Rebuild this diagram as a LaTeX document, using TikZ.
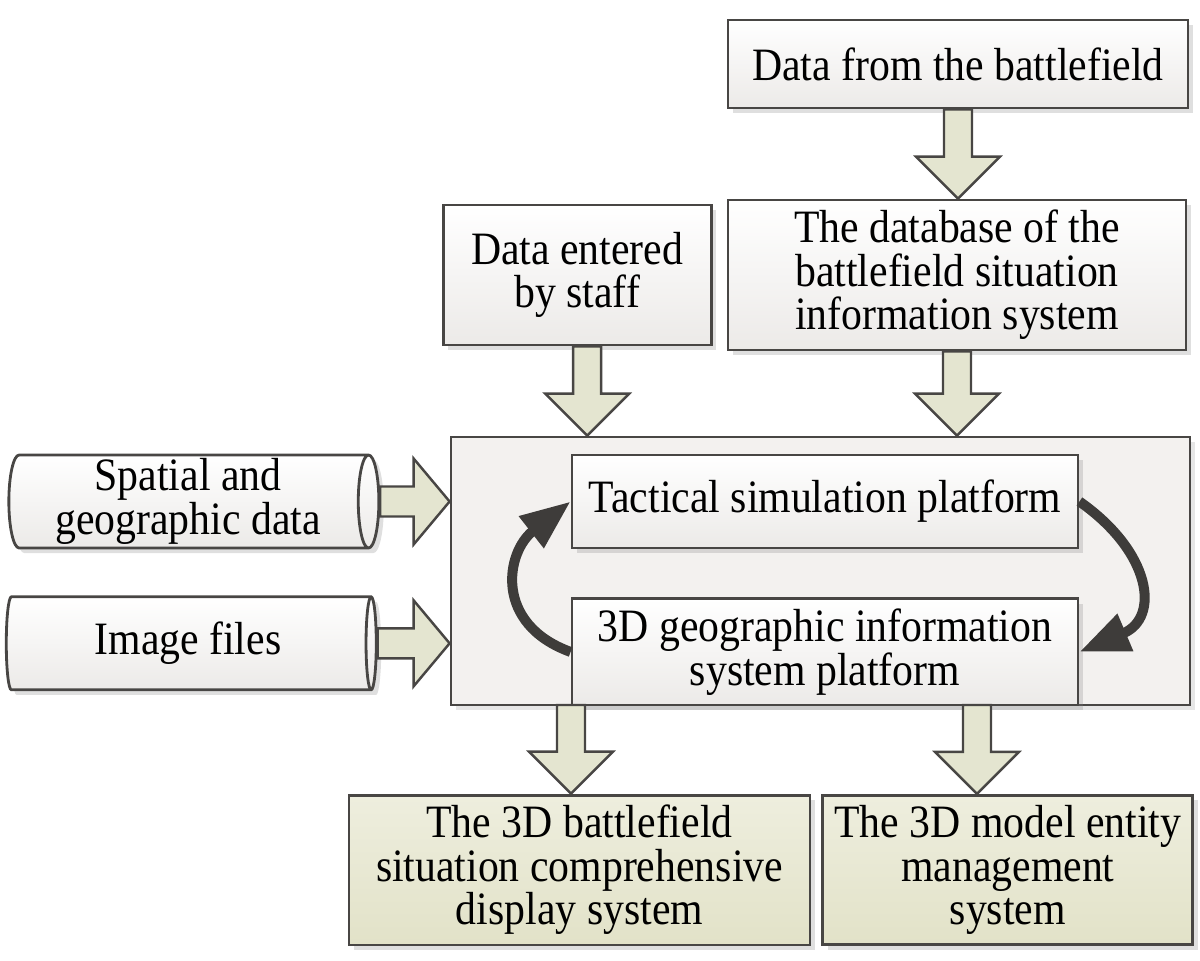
\documentclass[tikz,border=0pt]{standalone}
\usepackage{fontspec}
\setmainfont{Liberation Serif}[FakeStretch=0.9]
\usetikzlibrary{arrows.meta, positioning, calc, shapes.geometric, shadows}

\definecolor{frame}{RGB}{72,70,68}
\definecolor{panel}{RGB}{243,241,239}
\definecolor{boxlow}{RGB}{236,234,232}
\definecolor{olivetop}{RGB}{238,238,222}
\definecolor{olivelow}{RGB}{226,226,200}
\definecolor{arrowfill}{RGB}{228,229,208}
\definecolor{loopgray}{RGB}{62,60,58}

% block arrows between two points
\newcommand{\downblock}[2]{%
  \draw[blockarr] let \p1=(#1), \p2=(#2) in
    (\x1-1.4mm,\y1) -- (\x1-1.4mm,\y2+4.2mm) -- (\x1-4.2mm,\y2+4.2mm) -- (\x1,\y2)
    -- (\x1+4.2mm,\y2+4.2mm) -- (\x1+1.4mm,\y2+4.2mm) -- (\x1+1.4mm,\y1) -- cycle;}
\newcommand{\rightblock}[2]{%
  \draw[blockarr] let \p1=(#1), \p2=(#2) in
    (\x1,\y1+1.5mm) -- (\x2-3.6mm,\y1+1.5mm) -- (\x2-3.6mm,\y1+4.3mm) -- (\x2,\y1)
    -- (\x2-3.6mm,\y1-4.3mm) -- (\x2-3.6mm,\y1-1.5mm) -- (\x1,\y1-1.5mm) -- cycle;}

\begin{document}
\begin{tikzpicture}[
  x=0.1mm, y=-0.1mm,
  font=\fontsize{13.2}{12.4}\selectfont,
  box/.style={draw=frame, line width=0.8pt, top color=white, bottom color=boxlow,
    align=center, inner sep=1mm,
    drop shadow={opacity=0.25, shadow xshift=0.5mm, shadow yshift=-0.5mm}},
  outbox/.style={box, top color=olivetop, bottom color=olivelow},
  store/.style={box, cylinder, shape aspect=0.24, inner sep=0pt, minimum width=9.3mm, minimum height=37mm},
  blockarr/.style={draw=frame, line width=0.7pt, fill=arrowfill, line join=miter},
  turn/.style={draw=loopgray, line width=1mm,
    -{Triangle[length=5mm, width=3.8mm]}}
]
\useasboundingbox (0,0) rectangle (1200,960);

% platform panel
\node[draw=frame, line width=0.8pt, fill=panel, minimum width=73.9mm, minimum height=26.8mm,
  drop shadow={opacity=0.2, shadow xshift=0.5mm, shadow yshift=-0.5mm}] (main) at (820.5,571) {};
\node[box, minimum width=50.6mm, minimum height=9.3mm] (tac) at (825,501.5) {Tactical simulation platform};
\node[box, minimum width=50.6mm, minimum height=9.2mm, below=4.8mm of tac] (gis) {3D geographic information\\system platform};

% sources
\node[box, minimum width=46mm, minimum height=8.8mm] (field) at (958,64) {Data from the battlefield};
\node[box, minimum width=45.8mm, minimum height=14mm] (db) at (957,275) {The database of the\\battlefield situation\\information system};
\node[box, minimum width=26.8mm, minimum height=14mm, left=1.4mm of db] (staff) {Data entered\\by staff};
\node[store] (spatial) at (188,501.5) {Spatial and\\geographic data};
\node[store, below=4.6mm of spatial] (image) {Image files};

% outputs
\node[outbox, minimum width=46.1mm, minimum height=14mm] (disp) at (579.5,870) {The 3D battlefield\\situation comprehensive\\display system};
\node[outbox, minimum width=37mm, minimum height=14mm, right=1mm of disp] (mgmt) {The 3D model entity\\management\\system};

% arrow ends
\coordinate (s1) at ([xshift=1mm]staff.south);
\coordinate (o1) at (571,705);
\coordinate (o2) at (977,705);

\downblock{field.south}{db.north}
\downblock{s1}{main.north -| s1}
\downblock{db.south}{main.north -| db.south}
\downblock{o1}{disp.north -| o1}
\downblock{o2}{mgmt.north -| o2}
\rightblock{spatial.east}{main.west |- spatial.east}
\rightblock{image.east}{main.west |- image.east}

% loop between the platforms
\draw[turn] (tac.east) to[out=-35, in=23, looseness=1.5] (gis.east);
\draw[turn] (gis.west) to[out=160, in=218, looseness=1.4] (tac.west);
\end{tikzpicture}
\end{document}
